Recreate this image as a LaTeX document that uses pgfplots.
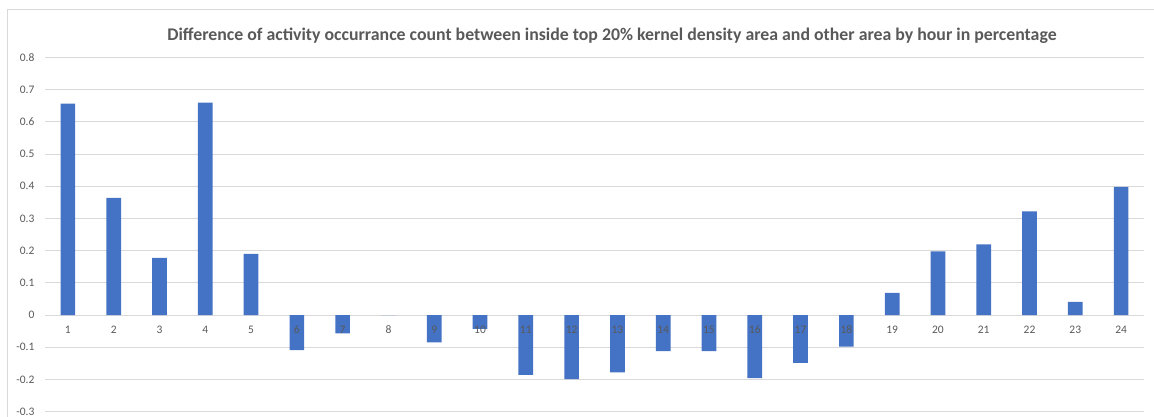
\documentclass[border=0pt]{standalone}
\usepackage{fontspec}
\setmainfont{Carlito}
\usepackage{pgfplots}
\pgfplotsset{compat=1.18}
\definecolor{barblue}{HTML}{4472C4}
\definecolor{gridgray}{HTML}{D9D9D9}
\definecolor{txtgray}{HTML}{595959}
\begin{document}
\begin{tikzpicture}[x=1pt,y=1pt]
\useasboundingbox (0,0) rectangle (1154,417);
\draw[gridgray, line width=1pt] (7,0) -- (7,407) -- (1154,407);
\node[font=\fontsize{17.8}{20}\selectfont\bfseries, text=txtgray] at (612,381) {Difference of activity occurrance count between inside top 20\% kernel density area and other area by hour in percentage};
\begin{axis}[
  at={(45pt,5.3pt)}, anchor=south west,
  scale only axis, width=1099pt, height=354.2pt,
  xmin=0.5, xmax=24.5, ymin=-0.3, ymax=0.8,
  axis x line=middle, axis y line=left,
  axis line style={-},
  x axis line style={gridgray, line width=1pt},
  y axis line style={draw=none},
  major tick length=0pt,
  xtick={1,2,...,24}, xticklabels={},
  ytick={-0.3,-0.2,-0.1,0,0.1,0.2,0.3,0.4,0.5,0.6,0.7,0.8},
  yticklabels={-0.3,-0.2,-0.1,0,0.1,0.2,0.3,0.4,0.5,0.6,0.7,0.8},
  ymajorgrids, grid style={gridgray, line width=1pt},
  tick label style={font=\fontsize{11.5}{13}\selectfont, text=txtgray},
  yticklabel style={xshift=-7pt},
  /pgf/number format/assume math mode=true,
  ybar, bar width=14.7pt,
]
\addplot[fill=barblue, draw=none] coordinates {
(1,0.657) (2,0.364) (3,0.178) (4,0.660) (5,0.190) (6,-0.109) (7,-0.057) (8,0)
(9,-0.085) (10,-0.043) (11,-0.186) (12,-0.199) (13,-0.178) (14,-0.112) (15,-0.112)
(16,-0.196) (17,-0.148) (18,-0.098) (19,0.069) (20,0.198) (21,0.220) (22,0.322)
(23,0.041) (24,0.398)};
\pgfplotsinvokeforeach{1,...,24}{
  \node[font=\fontsize{11.5}{13}\selectfont, text=txtgray] at (axis cs:#1,0) [yshift=-15pt] {#1};
}
\end{axis}
\end{tikzpicture}
\end{document}
